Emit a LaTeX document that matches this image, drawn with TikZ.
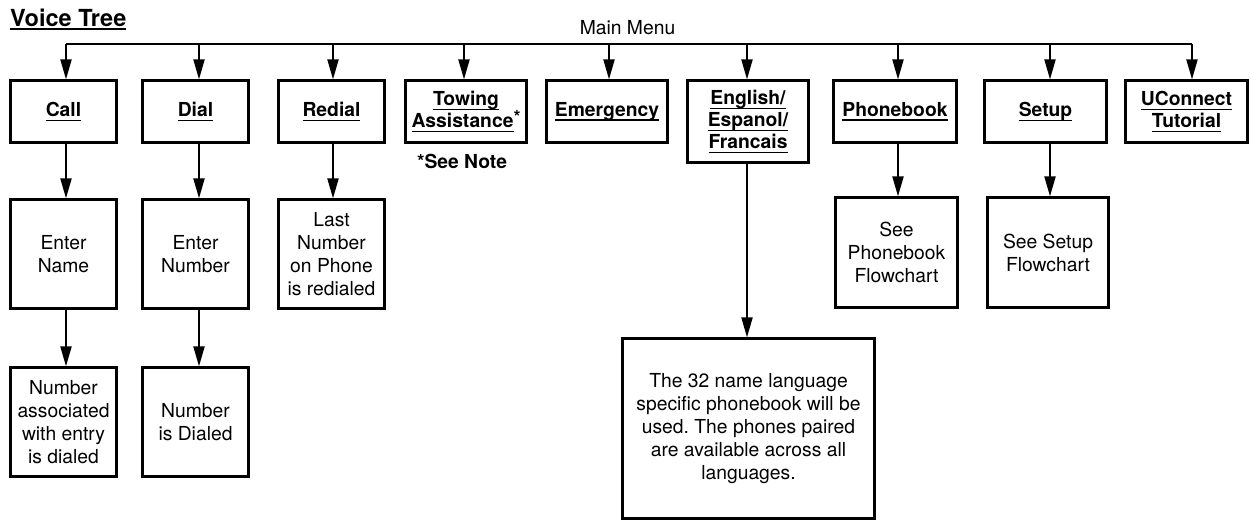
\documentclass[tikz,border=0pt]{standalone}
\usepackage{fontspec}
\setmainfont{TeX Gyre Heros}
\usetikzlibrary{arrows.meta}
\frenchspacing
\newsavebox\ulbox
\newcommand\ulx[1]{\sbox\ulbox{#1}\rlap{\rule[-4.3pt]{\wd\ulbox}{1.3pt}}\usebox\ulbox}
\newcommand\ultitle[1]{\sbox\ulbox{#1}\rlap{\rule[-4.2pt]{\wd\ulbox}{1.8pt}}\usebox\ulbox}
\newcommand\supast{{\fontsize{18}{18}\selectfont\raisebox{4pt}{*}}}
\tikzset{
  box/.style={draw, line width=2.2pt, align=center, inner sep=0pt,
    font=\fontsize{19.3}{23}\selectfont},
  hd/.style={box, font=\fontsize{19.3}{22}\selectfont\bfseries},
  conn/.style={line width=2pt},
  arr/.style={line width=2pt, -{Triangle[length=20pt,width=11pt]}},
  lbl/.style={inner sep=0pt, font=\fontsize{19.3}{23}\selectfont}
}
\begin{document}
\begin{tikzpicture}[x=1pt,y=-1pt]
\useasboundingbox (0,0) rectangle (1251,520);
% title
\node[lbl, anchor=base west, font=\fontsize{23.5}{26}\selectfont\bfseries] (title) at (10,26) {\ultitle{Voice Tree}};
\node[lbl, anchor=base] (mm) at (627.5,34) {Main Menu};
% first row
\node[hd, minimum width=106, minimum height=62] (call) at (63.5,111.5) {\ulx{Call}};
\node[hd, minimum width=106, minimum height=62] (dial) at (195.5,111.5) {\ulx{Dial}};
\node[hd, minimum width=106, minimum height=62] (redial) at (331.5,111.5) {\ulx{Redial}};
\node[hd, minimum width=121, minimum height=62] (tow) at (466,111.5) {\ulx{Towing}\\\ulx{Assistance}\supast};
\node[hd, minimum width=121, minimum height=62] (emer) at (607,111.5) {\ulx{Emergency}};
\node[hd, minimum width=121, minimum height=82] (eng) at (748,121.5) {\ulx{English/}\\\ulx{Espanol/}\\\ulx{Francais}};
\node[hd, minimum width=123, minimum height=62] (pb) at (895,111.5) {\ulx{Phonebook}};
\node[hd, minimum width=122, minimum height=62] (setup) at (1045.5,111.5) {\ulx{Setup}};
\node[hd, minimum width=122, minimum height=62] (uc) at (1186.5,111.5) {\ulx{UConnect}\\\ulx{Tutorial}};
\node[lbl, anchor=base, font=\fontsize{19.3}{23}\selectfont\bfseries] (note) at (462,168) {*See Note};
% second row
\node[box, minimum width=106, minimum height=109] (ename) at (63.5,254) {Enter\\Name};
\node[box, minimum width=106, minimum height=109] (enum) at (195.5,254) {Enter\\Number};
\node[box, minimum width=106, minimum height=109] (last) at (331.5,254) {Last\\Number\\on Phone\\is redialed};
\node[box, minimum width=122, minimum height=110] (seepb) at (896.5,252.5) {See\\Phonebook\\Flowchart};
\node[box, minimum width=121, minimum height=110] (seesu) at (1048,252.5) {See Setup\\Flowchart};
% third row
\node[box, minimum width=106, minimum height=109] (nassoc) at (63.5,422) {Number\\associated\\with entry\\is dialed};
\node[box, minimum width=106, minimum height=109] (ndial) at (195.5,422) {Number\\is Dialed};
\node[box, minimum width=252, minimum height=180] (lang) at (748.5,428.5) {The 32 name language\\specific phonebook will be\\used. The phones paired\\are available across all\\languages.};
% bar
\coordinate (b1) at (66,44);
\coordinate (b2) at (199,44);
\coordinate (b3) at (333,44);
\coordinate (b4) at (464,44);
\coordinate (b5) at (609,44);
\coordinate (b6) at (747,44);
\coordinate (b7) at (898,44);
\coordinate (b8) at (1050,44);
\coordinate (b9) at (1192,44);
\draw[conn] (b1) -- (b9);
\draw[arr] (b1) -- (b1 |- call.north);
\draw[arr] (b2) -- (b2 |- dial.north);
\draw[arr] (b3) -- (b3 |- redial.north);
\draw[arr] (b4) -- (b4 |- tow.north);
\draw[arr] (b5) -- (b5 |- emer.north);
\draw[arr] (b6) -- (b6 |- eng.north);
\draw[arr] (b7) -- (b7 |- pb.north);
\draw[arr] (b8) -- (b8 |- setup.north);
\draw[arr] (b9) -- (b9 |- uc.north);
% lower arrows
\draw[arr] (b1 |- call.south) -- (b1 |- ename.north);
\draw[arr] (b1 |- ename.south) -- (b1 |- nassoc.north);
\draw[arr] (b2 |- dial.south) -- (b2 |- enum.north);
\draw[arr] (b2 |- enum.south) -- (b2 |- ndial.north);
\draw[arr] (b3 |- redial.south) -- (b3 |- last.north);
\draw[arr] (b6 |- eng.south) -- (b6 |- lang.north);
\draw[arr] (b7 |- pb.south) -- (b7 |- seepb.north);
\draw[arr] (b8 |- setup.south) -- (b8 |- seesu.north);
\end{tikzpicture}
\end{document}
